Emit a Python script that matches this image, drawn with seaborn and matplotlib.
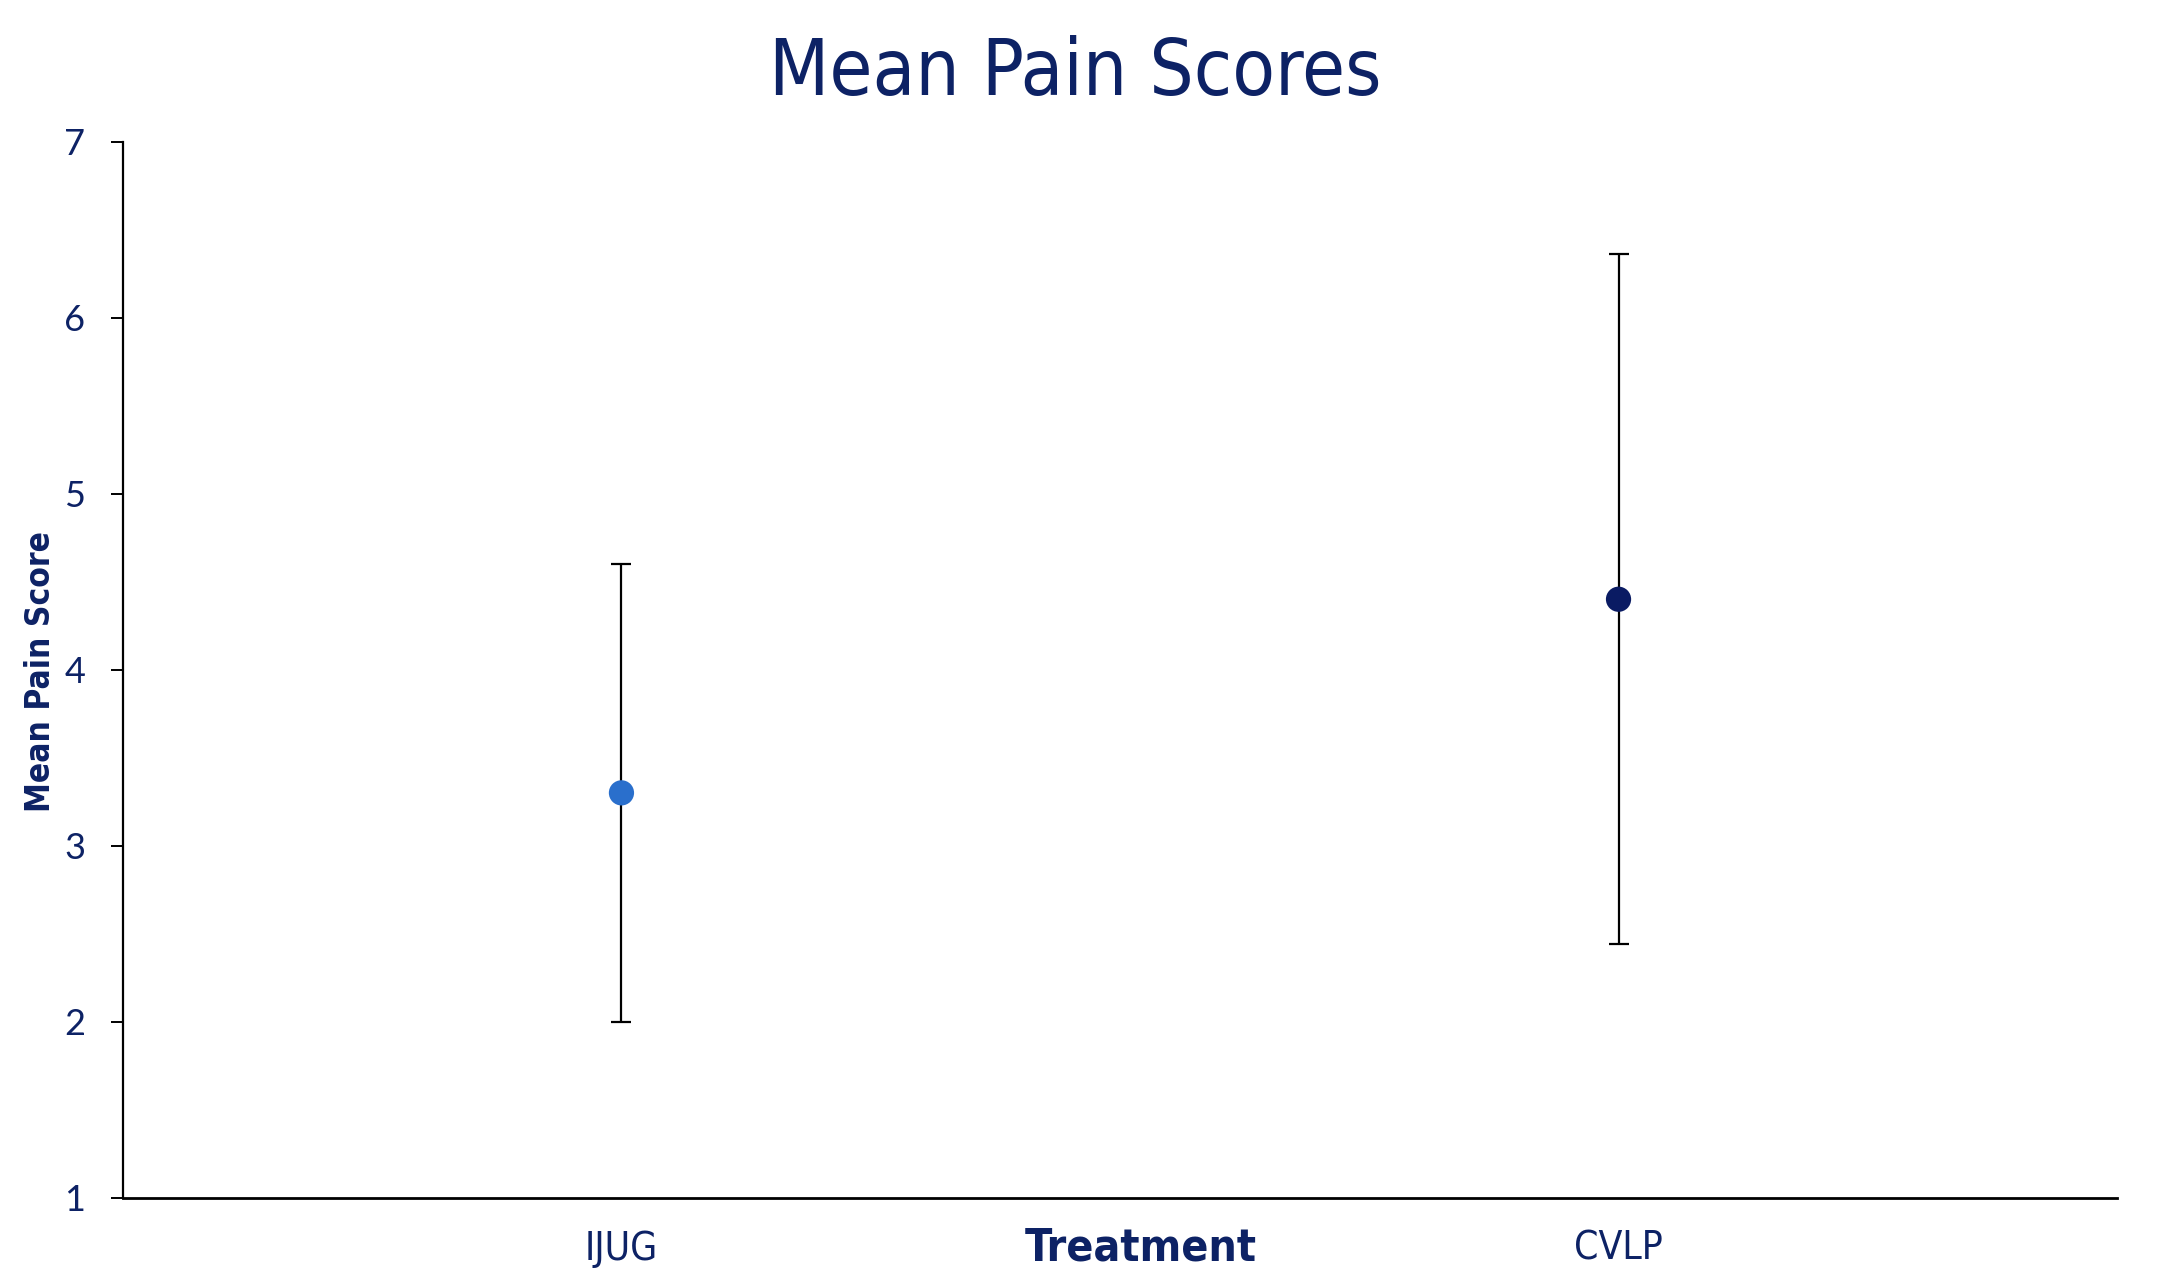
import pandas as pd
import matplotlib
matplotlib.use("Agg")
import matplotlib.pyplot as plt
import seaborn as sns

# Data
treatments = ["IJUG", "CVLP"]
mean_scores = [3.30, 4.40]
error_half = [1.30, 1.96]
marker_colors = ["#2A6FCC", "#0A1B63"]

text_color = "#0D2265"

df = pd.DataFrame({"treatment": treatments, "mean": mean_scores, "err": error_half})

sns.set_style("white")
plt.rcParams["font.family"] = ["DejaVu Sans"]
plt.rcParams["font.stretch"] = "condensed"

fig = plt.figure(figsize=(21.68, 12.76), dpi=100)
ax = fig.add_axes([0.0567, 0.0614, 0.9198, 0.8276])

# error bars first, markers on top
ax.errorbar(df["treatment"], df["mean"], yerr=df["err"], fmt="none",
            ecolor="black", elinewidth=1.6, capsize=7, capthick=1.6, zorder=2)
sns.scatterplot(data=df, x="treatment", y="mean", hue="treatment",
                palette=marker_colors, s=330, edgecolor="none",
                legend=False, zorder=3, ax=ax)

ax.set_xlim(-0.5, 1.5)
ax.set_ylim(1, 7)
ax.set_yticks(range(1, 8))
ax.set_xticks([0, 1])
ax.set_xticklabels(treatments)
ax.set_xticks([-0.5, 0.5, 1.5], minor=True)

ax.tick_params(axis="x", which="major", length=0, pad=23, labelsize=28,
               labelcolor=text_color)
ax.tick_params(axis="x", which="minor", length=9, width=1.4, direction="out",
               color="black")
ax.tick_params(axis="y", length=9, width=1.4, direction="out", color="black",
               pad=18, labelsize=26, labelcolor=text_color, left=True)
for lbl in ax.get_yticklabels():
    lbl.set_family(["Lato", "DejaVu Sans"])
    lbl.set_stretch("normal")

for side in ["top", "right"]:
    ax.spines[side].set_visible(False)
for side in ["left", "bottom"]:
    ax.spines[side].set_color("black")
    ax.spines[side].set_linewidth(1.6)
ax.spines["bottom"].set_linewidth(2.0)

ax.set_xlabel("")
ax.set_ylabel("")

fig.text(0.496, 0.943, "Mean Pain Scores", ha="center", va="center",
         fontsize=56, color=text_color)
fig.text(0.526, 0.012, "Treatment", ha="center", va="baseline",
         fontsize=32, fontweight="bold", color=text_color)
fig.text(0.0185, 0.474, "Mean Pain Score", ha="center", va="center",
         rotation=90, fontsize=24, fontweight="bold", color=text_color)

fig.savefig("out.png", dpi=100)
